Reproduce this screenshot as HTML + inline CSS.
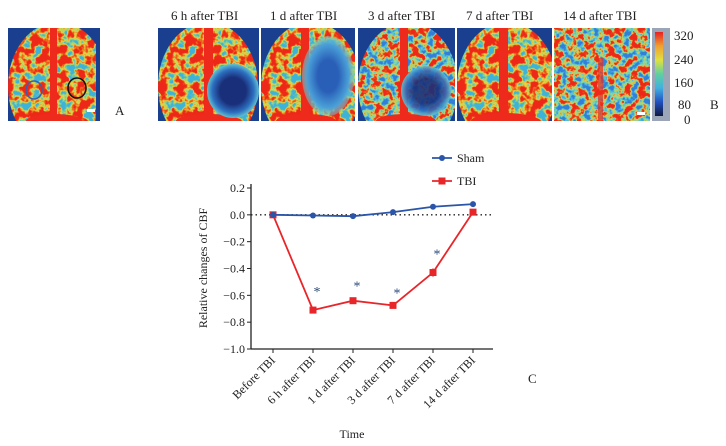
<!DOCTYPE html>
<html><head><meta charset="utf-8"><style>
body{margin:0;width:726px;height:446px;background:#fff;position:relative;overflow:hidden;font-family:"Liberation Serif",serif;}
.lbl{position:absolute;font-size:13px;color:#222}
.ttl{position:absolute;top:8px;font-size:13px;color:#222;white-space:nowrap}
</style></head><body>
<svg width="726" height="130" style="position:absolute;left:0;top:0">
<defs>
<filter id="sp" x="0" y="0" width="100%" height="100%" color-interpolation-filters="sRGB">
<feTurbulence type="fractalNoise" baseFrequency="0.11" numOctaves="3" seed="3"/>
<feColorMatrix type="matrix" values="0 0 0 0 0  0 0 0 0 0  0 0 0 0 0  3 0 0 0 -1.0"/>
<feColorMatrix type="matrix" values="0 0 0 1 0  0 0 0 1 0  0 0 0 1 0  0 0 0 0 1"/>
<feComponentTransfer>
<feFuncR type="table" tableValues="0.25 0.55 0.9 0.93 0.93 0.93"/>
<feFuncG type="table" tableValues="0.7 0.82 0.85 0.45 0.16 0.16"/>
<feFuncB type="table" tableValues="0.85 0.55 0.25 0.12 0.1 0.1"/>
</feComponentTransfer>
</filter>
<filter id="sp2" x="0" y="0" width="100%" height="100%" color-interpolation-filters="sRGB">
<feTurbulence type="fractalNoise" baseFrequency="0.13" numOctaves="3" seed="7"/>
<feColorMatrix type="matrix" values="0 0 0 0 0  0 0 0 0 0  0 0 0 0 0  3 0 0 0 -1.0"/>
<feColorMatrix type="matrix" values="0 0 0 1 0  0 0 0 1 0  0 0 0 1 0  0 0 0 0 1"/>
<feComponentTransfer>
<feFuncR type="table" tableValues="0.2 0.3 0.5 0.85 0.93 0.93"/>
<feFuncG type="table" tableValues="0.5 0.72 0.85 0.8 0.25 0.16"/>
<feFuncB type="table" tableValues="0.85 0.88 0.65 0.3 0.1 0.1"/>
</feComponentTransfer>
</filter>
<radialGradient id="les1"><stop offset="0.5" stop-color="#1a2f7a"/><stop offset="0.8" stop-color="#2d6fc0"/><stop offset="1" stop-color="#60c0d0"/></radialGradient>
<radialGradient id="les2"><stop offset="0.4" stop-color="#2a5fb8"/><stop offset="0.8" stop-color="#4aa0d8"/><stop offset="1" stop-color="#70c8c8" stop-opacity="0.5"/></radialGradient>
<clipPath id="cB"><ellipse cx="50" cy="58" rx="50" ry="64"/></clipPath>
</defs>
<g>
<svg x="8" y="28" width="92" height="93"><rect width="92" height="93" fill="#1a3f8f"/>
<g clip-path="url(#cB)"><rect width="92" height="93" fill="#000" filter="url(#sp)" transform="translate(-4 0)"/></g>
<rect x="42" y="0" width="7" height="93" fill="#ee2a1c"/>
<ellipse cx="46" cy="93" rx="28" ry="7" fill="#ee2a1c"/>
<ellipse cx="26" cy="62" rx="8" ry="9" fill="none" stroke="#3a5fb0" stroke-width="1.5"/>
<ellipse cx="69" cy="60" rx="9" ry="10" fill="none" stroke="#111" stroke-width="1.5"/>
<rect x="79" y="81" width="8" height="3" fill="#fff"/></svg>
</g>
<g>
<svg x="158" y="28" width="101" height="93"><rect width="101" height="93" fill="#1a3f8f"/>
<g clip-path="url(#cB)"><rect width="101" height="93" fill="#000" filter="url(#sp)"/></g>
<rect x="46" y="0" width="9" height="93" fill="#ee2a1c"/><ellipse cx="50" cy="93" rx="32" ry="7" fill="#ee2a1c"/>
<ellipse cx="75" cy="63" rx="26" ry="27" fill="url(#les1)"/></svg>
</g>
<g>
<svg x="261" y="28" width="94" height="93"><rect width="94" height="93" fill="#1a3f8f"/>
<g clip-path="url(#cB)"><rect width="94" height="93" fill="#000" filter="url(#sp)"/></g>
<rect x="40" y="0" width="8" height="93" fill="#ee2a1c"/><ellipse cx="45" cy="93" rx="30" ry="7" fill="#ee2a1c"/>
<ellipse cx="67" cy="48" rx="26" ry="40" fill="url(#les2)"/></svg>
</g>
<g>
<svg x="358" y="28" width="97" height="93"><rect width="97" height="93" fill="#1a3f8f"/>
<g clip-path="url(#cB)"><rect width="97" height="93" fill="#000" filter="url(#sp2)"/></g>
<rect x="42" y="0" width="8" height="93" fill="#ee2a1c"/><ellipse cx="48" cy="93" rx="30" ry="7" fill="#ee2a1c"/>
<ellipse cx="68" cy="63" rx="25" ry="25" fill="url(#les1)" opacity="0.9"/></svg>
</g>
<g>
<svg x="457" y="28" width="95" height="93"><rect width="95" height="93" fill="#1a3f8f"/>
<g clip-path="url(#cB)"><rect width="95" height="93" fill="#000" filter="url(#sp)"/></g>
<rect x="42" y="0" width="9" height="93" fill="#ee2a1c"/><ellipse cx="48" cy="93" rx="34" ry="8" fill="#ee2a1c"/></svg>
</g>
<g>
<svg x="554" y="28" width="96" height="93"><rect width="96" height="93" fill="#000" filter="url(#sp2)"/>
<rect x="44" y="30" width="5" height="63" fill="#ee2a1c" opacity="0.7"/></svg>
</g>
<rect x="637" y="112" width="8" height="3" fill="#fff"/>
</svg>

<div class="lbl" style="left:115px;top:103px">A</div>
<div class="ttl" style="left:171px">6 h after TBI</div>
<div class="ttl" style="left:270px">1 d after TBI</div>
<div class="ttl" style="left:368px">3 d after TBI</div>
<div class="ttl" style="left:466px">7 d after TBI</div>
<div class="ttl" style="left:563px">14 d after TBI</div>

<div style="position:absolute;left:652px;top:28px;width:18px;height:93px;background:#9aa6b8"><div style="position:absolute;left:3px;top:4px;width:8px;height:84px;background:linear-gradient(#e82020,#f0a030,#e0e040,#60d0a0,#40b0e0,#2050c0,#101840)"></div></div>
<div class="lbl" style="left:674px;top:28px">320</div>
<div class="lbl" style="left:674px;top:52px">240</div>
<div class="lbl" style="left:674px;top:75px">160</div>
<div class="lbl" style="left:678px;top:97px">80</div>
<div class="lbl" style="left:684px;top:112px">0</div>
<div class="lbl" style="left:710px;top:97px">B</div>
<div class="lbl" style="left:528px;top:371px">C</div>

<svg id="chart" width="726" height="446" style="position:absolute;left:0;top:0"></svg>
<script>
const categories=["Before TBI","6 h after TBI","1 d after TBI","3 d after TBI","7 d after TBI","14 d after TBI"];
const shamValues=[0,-0.005,-0.01,0.02,0.06,0.08];
const tbiValues=[0,-0.71,-0.64,-0.675,-0.43,0.02];
const tbiErr=[0,0.02,0.01,0.01,0.03,0.01];
const yTicks=[0.2,0,-0.2,-0.4,-0.6,-0.8,-1.0];
const yTickLabels=["0.2","0.0","−0.2","−0.4","−0.6","−0.8","−1.0"];
const sigIdx=[1,2,3,4];
const sigY=[-0.56,-0.52,-0.57,-0.28];
const svg=document.getElementById('chart');const NS="http://www.w3.org/2000/svg";
const X0=251,X1=493,Y0=188,Y1=349;
const xs=i=>273+i*40;const ys=v=>Y0+(0.2-v)/1.2*(Y1-Y0);
function mk(t,a,txt){const e=document.createElementNS(NS,t);for(const k in a)e.setAttribute(k,a[k]);if(txt!==undefined)e.textContent=txt;svg.appendChild(e);return e;}
let e;
e=mk('line',{x1:X0,y1:Y0-4,x2:X0,y2:Y1,stroke:'#222','stroke-width':1.3});

e=mk('line',{x1:X0,y1:Y1,x2:X1,y2:Y1,stroke:'#222','stroke-width':1.3});

e=mk('line',{x1:X0,y1:ys(0),x2:X1,y2:ys(0),stroke:'#222','stroke-width':1.3,'stroke-dasharray':'1.5,3'});

yTicks.forEach((v,i)=>{mk('line',{x1:X0-4,y1:ys(v),x2:X0,y2:ys(v),stroke:'#222'});
e=mk('text',{x:X0-6,y:ys(v)+4,'text-anchor':'end','font-size':12,fill:'#222'},yTickLabels[i]);
});
categories.forEach((c,i)=>{mk('line',{x1:xs(i),y1:Y1,x2:xs(i),y2:Y1+4,stroke:'#222'});
e=mk('text',{x:xs(i)+3,y:Y1+12,'text-anchor':'end','font-size':12,fill:'#222',transform:`rotate(-45 ${xs(i)+3} ${Y1+12})`},c);
});
e=mk('text',{x:207,y:268,'text-anchor':'middle','font-size':12,fill:'#222',transform:'rotate(-90 207 268)'},'Relative changes of CBF');

e=mk('text',{x:352,y:438,'text-anchor':'middle','font-size':12,fill:'#222'},'Time');

e=mk('polyline',{points:tbiValues.map((v,i)=>xs(i)+','+ys(v)).join(' '),fill:'none',stroke:'#e8262a','stroke-width':1.8});

tbiValues.forEach((v,i)=>{mk('line',{x1:xs(i),y1:ys(v-tbiErr[i]),x2:xs(i),y2:ys(v+tbiErr[i]),stroke:'#e8262a','stroke-width':1.5});
e=mk('rect',{x:xs(i)-3.5,y:ys(v)-3.5,width:7,height:7,fill:'#e8262a'});
});
e=mk('polyline',{points:shamValues.map((v,i)=>xs(i)+','+ys(v)).join(' '),fill:'none',stroke:'#2a55a8','stroke-width':1.8});

shamValues.forEach((v,i)=>{e=mk('circle',{cx:xs(i),cy:ys(v),r:3,fill:'#2a55a8'});
});
sigIdx.forEach((k,j)=>{e=mk('text',{x:xs(k)+4,y:ys(sigY[j])+6,'text-anchor':'middle','font-size':14,fill:'#2a4a78'},'*');
});
mk('line',{x1:432,y1:158,x2:452,y2:158,stroke:'#2a55a8','stroke-width':1.8});mk('circle',{cx:442,cy:158,r:3,fill:'#2a55a8'});
e=mk('text',{x:457,y:162,'font-size':12,fill:'#222'},'Sham');
mk('line',{x1:432,y1:181,x2:452,y2:181,stroke:'#e8262a','stroke-width':1.8});mk('rect',{x:438.5,y:177.5,width:7,height:7,fill:'#e8262a'});
e=mk('text',{x:457,y:185,'font-size':12,fill:'#222'},'TBI');
</script>
</body></html>
